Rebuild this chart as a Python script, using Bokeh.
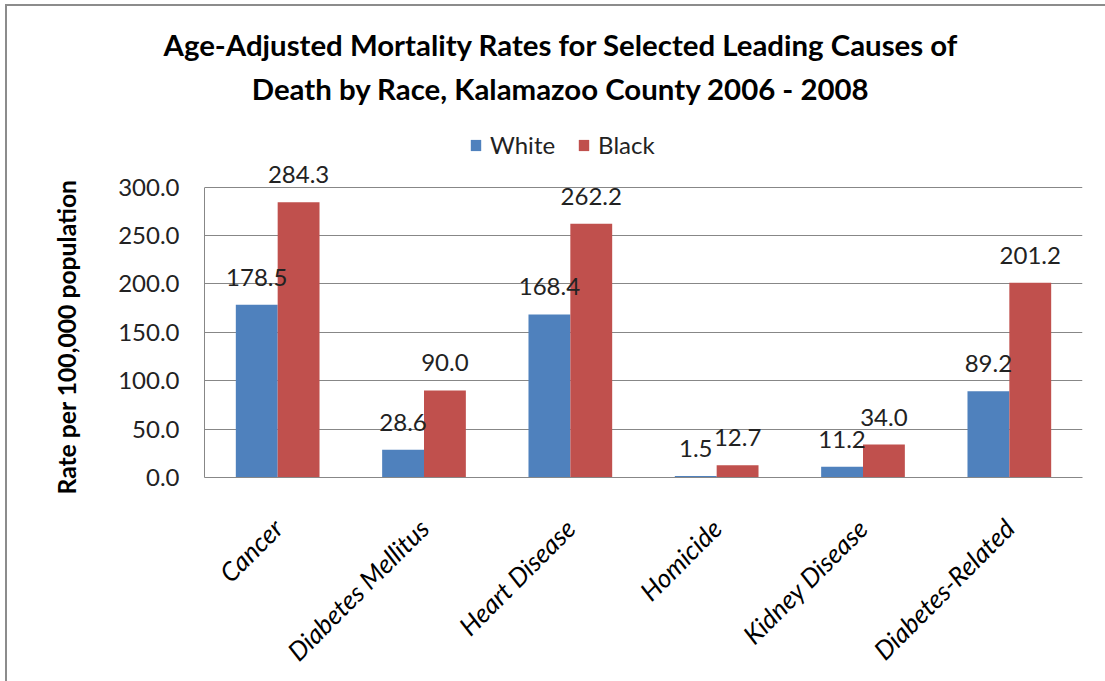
import math
from bokeh.plotting import figure
from bokeh.models import (ColumnDataSource, FactorRange, Range1d, LabelSet, Label, Legend, LegendItem,
                          NumeralTickFormatter, FixedTicker, Title)
from bokeh.transform import dodge
from bokeh.core.properties import value
from bokeh.embed import file_html
from bokeh.resources import INLINE

# ---- data ----
causes = ["Cancer", "Diabetes Mellitus", "Heart Disease", "Homicide", "Kidney Disease", "Diabetes-Related"]
white = [178.5, 28.6, 168.4, 1.5, 11.2, 89.2]
black = [284.3, 90.0, 262.2, 12.7, 34.0, 201.2]
series_names = ["White", "Black"]
y_ticks = [0, 50, 100, 150, 200, 250, 300]
title_lines = ["Age-Adjusted Mortality Rates for Selected Leading Causes of",
               "Death by Race, Kalamazoo County  2006 - 2008"]
y_label = "Rate per 100,000 population"

FONT = "Lato"
BLUE = "#4F81BD"
RED = "#C0504D"
GRID = "#878787"

# layout (px)
W, H = 1105, 681
MB_LEFT, MB_RIGHT, MB_TOP, MB_BOTTOM = 204, 23, 61, 196
AXIS_PX = 296                    # pixel height of the 0..300 axis
FRAME_H = H - MB_TOP - MB_BOTTOM
Y_TOP = y_ticks[-1] * FRAME_H / AXIS_PX   # frame extends above the axis to host 2nd title line/legend

src = ColumnDataSource(dict(
    cause=causes,
    white=white,
    black=black,
    white_lbl=[f"{v:.1f}" for v in white],
    black_lbl=[f"{v:.1f}" for v in black],
))

p = figure(
    x_range=FactorRange(*causes, range_padding=0),
    y_range=Range1d(0, Y_TOP),
    width=W, height=H,
    min_border_left=MB_LEFT, min_border_right=MB_RIGHT, min_border_top=MB_TOP, min_border_bottom=MB_BOTTOM,
    output_backend="svg", toolbar_location=None, title=None,
)
# transparent outer area so the host's inset shadows draw the grey chart border (left and top)
p.border_fill_color = None
p.background_fill_color = "white"
p.styles = {"box-shadow": "inset 5px 4px 0 0 #ffffff, inset 7px 6px 0 0 #8c8c8c",
            "background-color": "#ffffff"}

bw = 0.286
rw = p.vbar(x=dodge("cause", -bw / 2, range=p.x_range), top="white", width=bw, bottom=0,
            source=src, fill_color=BLUE, line_color=None)
rb = p.vbar(x=dodge("cause", bw / 2, range=p.x_range), top="black", width=bw, bottom=0,
            source=src, fill_color=RED, line_color=None)

for col, off in (("white_lbl", -bw / 2), ("black_lbl", bw / 2)):
    ycol = col.replace("_lbl", "")
    p.add_layout(LabelSet(x=dodge("cause", off, range=p.x_range), y=ycol, text=col, source=src,
                          y_offset=19, text_align="center", text_baseline="alphabetic",
                          text_font=value(FONT), text_font_size="24px", text_color="#222222"))

# axes
p.outline_line_color = None
p.xgrid.grid_line_color = None
p.ygrid.grid_line_color = GRID
p.ygrid.grid_line_width = 1

ya = p.yaxis[0]
ya.ticker = FixedTicker(ticks=y_ticks)
ya.bounds = (y_ticks[0], y_ticks[-1])
ya.formatter = NumeralTickFormatter(format="0.0")
ya.axis_line_color = GRID
ya.major_tick_line_color = None
ya.minor_tick_line_color = None
ya.major_label_text_font = FONT
ya.major_label_text_font_size = "24px"
ya.major_label_text_color = "#222222"
ya.major_label_standoff = 19

xa = p.xaxis[0]
xa.axis_line_color = GRID
xa.major_tick_line_color = None
xa.minor_tick_line_color = None
xa.major_label_orientation = math.pi / 4
xa.major_label_text_font = FONT
xa.major_label_text_font_size = "26px"
xa.major_label_text_font_style = "italic"
xa.major_label_text_color = "#000000"
xa.major_label_standoff = 40

# y-axis title as a side title, so it can be placed along the 0..300 part of the axis
p.add_layout(Title(text=y_label, align="left", offset=-17, standoff=69,
                   text_font=FONT, text_font_size="24.7px", text_font_style="bold",
                   text_color="#000000"), "left")

legend = Legend(items=[LegendItem(label=series_names[0], renderers=[rw]),
                       LegendItem(label=series_names[1], renderers=[rb])],
                orientation="horizontal", location=(265, 318),
                glyph_width=13, glyph_height=14, label_standoff=8, spacing=22,
                padding=5, margin=0, border_line_color=None, background_fill_alpha=0,
                label_text_font=FONT, label_text_font_size="24px", label_text_color="#222222")
p.add_layout(legend, "center")

# first title line above the frame, second inside the (extended) frame
p.add_layout(Title(text=title_lines[0], align="left", offset=-41, standoff=0,
                   text_font=FONT, text_font_size="29.4px", text_font_style="bold",
                   text_color="#000000"), "above")
p.add_layout(Label(x=360, y=389, x_units="screen", y_units="screen", text=title_lines[1],
                   text_align="center", text_baseline="alphabetic",
                   text_font=FONT, text_font_size="29.4px", text_font_style="bold",
                   text_color="#000000"))

open("out.html", "w").write(file_html(p, INLINE))
